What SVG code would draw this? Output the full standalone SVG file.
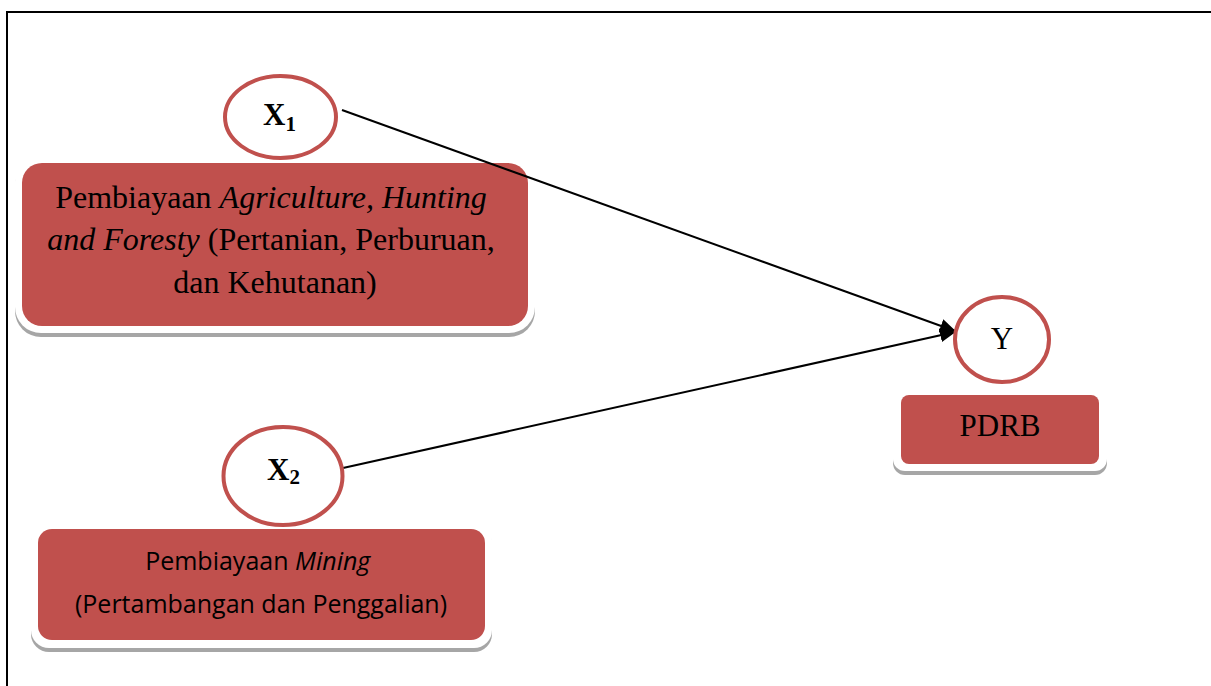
<svg xmlns="http://www.w3.org/2000/svg" width="1211" height="686" viewBox="0 0 1211 686">
  <style>
    .frame{fill:none;stroke:#000;stroke-width:2}
    .shadow{fill:#a6a6a6}
    .glow{fill:#fff}
    .box{fill:#c0504d}
    .ell{fill:#fff;stroke:#c0504d;stroke-width:4}
    .conn{stroke:#000;stroke-width:2;fill:none}
    .tnr{font-family:"Liberation Serif","Times New Roman",serif;fill:#000}
    .sans{font-family:"Open Sans","Liberation Sans",sans-serif;fill:#000}
  </style>
  <defs>
    <marker id="arrow" markerWidth="16" markerHeight="14" refX="15" refY="7" orient="auto" markerUnits="userSpaceOnUse">
      <path d="M0,0 L16,7 L0,14 Z" fill="#000"/>
    </marker>
  </defs>
  <rect width="1211" height="686" fill="#fff"/>
  <rect class="frame" x="7" y="12" width="1300" height="800"/>

  <g id="box1">
    <rect class="shadow" x="15" y="160" width="520" height="177" rx="26"/>
    <rect class="glow" x="15" y="156" width="520" height="177" rx="26"/>
    <rect class="box" x="22" y="163" width="506" height="163" rx="20"/>
    <text class="tnr" font-size="32" text-anchor="middle">
      <tspan x="275" y="208">Pembiayaan <tspan font-style="italic">Agriculture, Hunting</tspan></tspan>
      <tspan x="275" y="250"><tspan font-style="italic">and Foresty</tspan> (Pertanian, Perburuan,</tspan>
      <tspan x="275" y="293">dan Kehutanan)</tspan>
    </text>
  </g>

  <g id="box2">
    <rect class="shadow" x="31" y="526" width="461" height="126" rx="18"/>
    <rect class="glow" x="31" y="522" width="461" height="126" rx="18"/>
    <rect class="box" x="38" y="529" width="447" height="111" rx="14"/>
    <text class="sans" font-size="25" text-anchor="middle">
      <tspan x="261" y="570">Pembiayaan <tspan font-style="italic">Mining</tspan></tspan>
      <tspan x="261" y="613">(Pertambangan dan Penggalian)</tspan>
    </text>
  </g>

  <g id="boxY">
    <rect class="shadow" x="893" y="392" width="214" height="83" rx="12"/>
    <rect class="glow" x="893" y="388" width="214" height="83" rx="12"/>
    <rect class="box" x="901" y="395" width="198" height="69" rx="8"/>
    <text class="tnr" font-size="31" text-anchor="middle" x="1000" y="436">PDRB</text>
  </g>

  <g id="connectors">
    <line class="conn" x1="342" y1="110" x2="955" y2="331" marker-end="url(#arrow)"/>
    <line class="conn" x1="343" y1="468" x2="955" y2="332" marker-end="url(#arrow)"/>
  </g>

  <g id="X1">
    <ellipse class="ell" cx="280.5" cy="117" rx="55.5" ry="41"/>
    <text class="tnr" font-size="31" font-weight="bold" x="263" y="125">X<tspan font-size="21" dy="6">1</tspan></text>
  </g>

  <g id="X2">
    <ellipse class="ell" cx="283" cy="476" rx="59.5" ry="49"/>
    <text class="tnr" font-size="31" font-weight="bold" x="267" y="480">X<tspan font-size="21" dy="4">2</tspan></text>
  </g>

  <g id="Y">
    <ellipse class="ell" cx="1002" cy="339.5" rx="47" ry="42.5"/>
    <text class="tnr" font-size="31" text-anchor="middle" x="1002" y="349">Y</text>
  </g>
</svg>
